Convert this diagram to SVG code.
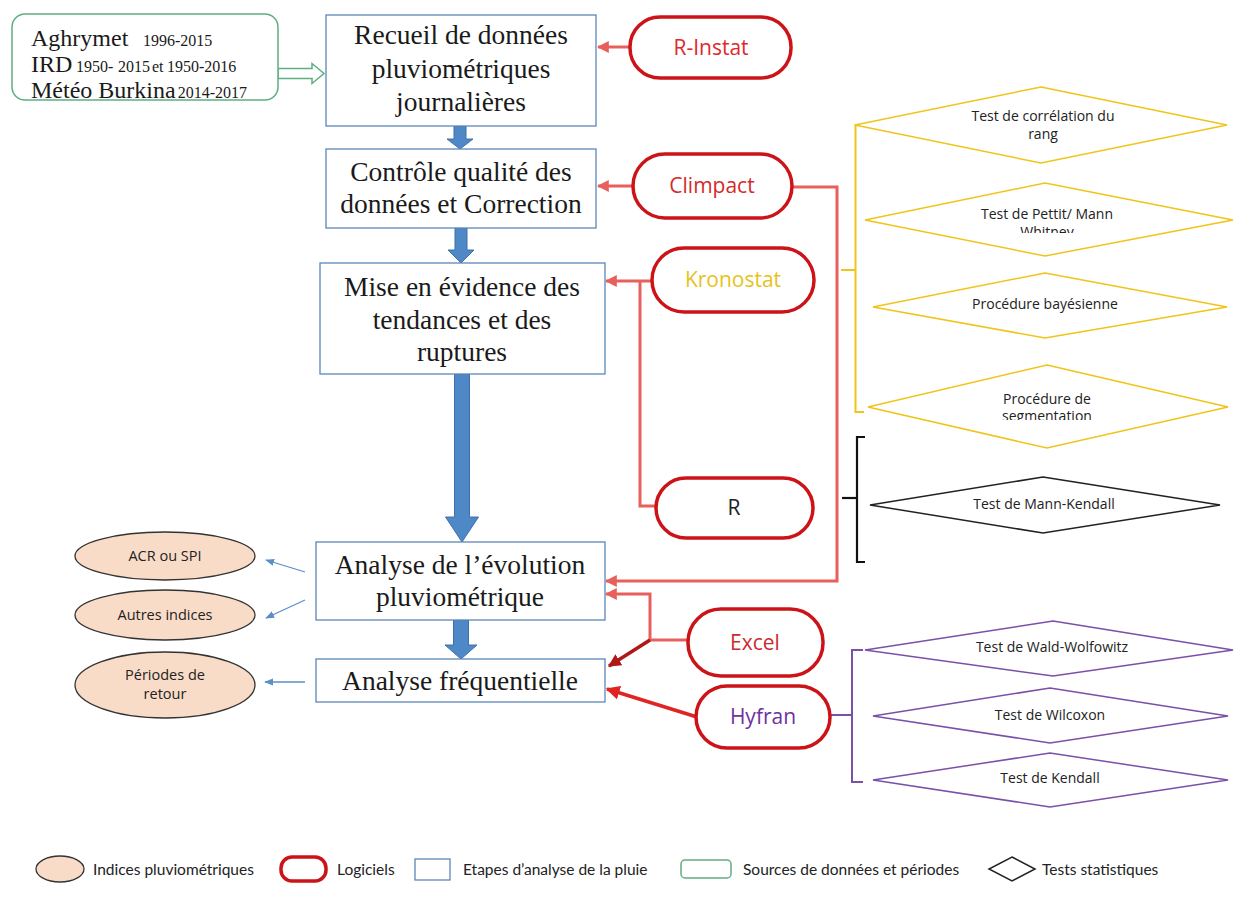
<svg xmlns="http://www.w3.org/2000/svg" width="1239" height="905" viewBox="0 0 1239 905">
<style>
.bg{fill:#ffffff}
.step{fill:#ffffff;stroke:#5b87b9;stroke-width:1.3}
.stept{font-family:"Liberation Serif",serif;font-size:27.5px;fill:#1a1a1a;text-anchor:middle}
.src{fill:#ffffff;stroke:#5fae80;stroke-width:1.5}
.srcb{font-family:"Liberation Serif",serif;font-size:24px;fill:#1a1a1a}
.srcs{font-family:"Liberation Serif",serif;font-size:16px;fill:#1a1a1a}
.pill{fill:#ffffff;stroke:#cc1418;stroke-width:3.5}
.pillt{font-family:"Open Sans",sans-serif;font-size:21px;text-anchor:middle}
.ell{fill:#f9dcc8;stroke:#333333;stroke-width:1.3}
.ellt{font-family:"Open Sans",sans-serif;font-size:14.5px;fill:#222;text-anchor:middle}
.dy{fill:#ffffff;stroke:#f0c419;stroke-width:1.5}
.dk{fill:#ffffff;stroke:#222222;stroke-width:1.5}
.dp{fill:#ffffff;stroke:#7a50a8;stroke-width:1.5}
.dt{font-family:"Open Sans",sans-serif;font-size:14px;fill:#222;text-anchor:middle}
.red{fill:none;stroke:#e8605c;stroke-width:3}
.blk{fill:#4f88c6;stroke:#3f70aa;stroke-width:1}
.thin{fill:none;stroke:#5b8fc7;stroke-width:1.3}
.lg{font-family:Lato,"Open Sans",sans-serif;font-size:15.5px;fill:#222}
</style>
<defs>
<marker id="ar" viewBox="0 0 10 10" refX="9" refY="5" markerWidth="12" markerHeight="12" markerUnits="userSpaceOnUse" orient="auto"><path d="M0,0 L10,5 L0,10 z" fill="#e8605c"/></marker>
<marker id="ard" viewBox="0 0 10 10" refX="9" refY="5" markerWidth="13" markerHeight="13" markerUnits="userSpaceOnUse" orient="auto"><path d="M0,0 L10,5 L0,10 z" fill="#b01818"/></marker>
<marker id="arr" viewBox="0 0 10 10" refX="9" refY="5" markerWidth="14" markerHeight="14" markerUnits="userSpaceOnUse" orient="auto"><path d="M0,0 L10,5 L0,10 z" fill="#e02424"/></marker>
<marker id="ab" viewBox="0 0 10 10" refX="9" refY="5" markerWidth="9" markerHeight="9" markerUnits="userSpaceOnUse" orient="auto"><path d="M0,1 L10,5 L0,9 z" fill="#5b8fc7"/></marker>
<clipPath id="cpw"><rect x="900" y="190" width="300" height="43"/></clipPath>
<clipPath id="cps"><rect x="900" y="380" width="300" height="40"/></clipPath>
</defs>
<rect class="bg" x="0" y="0" width="1239" height="905"/>

<g id="connectors">
  <polygon points="278,68.5 312,68.5 312,63.5 324,73.5 312,83.5 312,78.5 278,78.5" fill="#ffffff" stroke="#5fae80" stroke-width="1.5"/>
  <polygon class="blk" points="454,126 466,126 466,139 473,139 460,149 447,139 454,139"/>
  <polygon class="blk" points="455,228 467,228 467,250 474,250 461,263 448,250 455,250"/>
  <polygon class="blk" points="454.5,374 469.5,374 469.5,517 478.5,517 462,542 445.5,517 454.5,517"/>
  <polygon class="blk" points="453.5,620 468.5,620 468.5,645 477,645 461,659 445,645 453.5,645"/>
  <line class="red" x1="630" y1="47" x2="598" y2="47" marker-end="url(#ar)"/>
  <line class="red" x1="633" y1="186" x2="598" y2="186" marker-end="url(#ar)"/>
  <line class="red" x1="652" y1="281" x2="606" y2="281" marker-end="url(#ar)"/>
  <polyline class="red" points="656,506 640,506 640,281"/>
  <polyline class="red" points="792,187 837,187 837,581 606,581" marker-end="url(#ar)"/>
  <polyline class="red" points="688,640 650,640 650,594 606,594" marker-end="url(#ar)"/>
  <line x1="650" y1="640" x2="609" y2="666" stroke="#b01818" stroke-width="3.5" marker-end="url(#ard)"/>
  <line x1="697" y1="717" x2="607" y2="689" stroke="#e02424" stroke-width="3.5" marker-end="url(#arr)"/>
  <line class="thin" x1="305" y1="572" x2="266" y2="560" marker-end="url(#ab)"/>
  <line class="thin" x1="305" y1="600" x2="266" y2="618" marker-end="url(#ab)"/>
  <line class="thin" x1="305" y1="682" x2="265" y2="682" marker-end="url(#ab)"/>
  <polyline points="864,125 855.5,125 855.5,412 864,412" fill="none" stroke="#f0c419" stroke-width="2"/>
  <line x1="841" y1="270" x2="855.5" y2="270" stroke="#f0c419" stroke-width="2"/>
  <polyline points="865,437 857,437 857,562 865,562" fill="none" stroke="#111" stroke-width="2.2"/>
  <line x1="842" y1="498" x2="857" y2="498" stroke="#111" stroke-width="2.2"/>
  <polyline points="863,650 852,650 852,782 863,782" fill="none" stroke="#7a50a8" stroke-width="2"/>
  <line x1="830" y1="715" x2="852" y2="715" stroke="#7a50a8" stroke-width="2"/>
</g>

<g id="sources">
  <rect class="src" x="12" y="14" width="266" height="86" rx="13"/>
  <text x="31" y="46"><tspan class="srcb">Aghrymet</tspan><tspan class="srcs" x="143">1996-2015</tspan></text>
  <text x="31" y="72"><tspan class="srcb">IRD</tspan><tspan class="srcs" x="76">1950-</tspan><tspan class="srcs" x="118">2015</tspan><tspan class="srcs" x="152" font-size="14">et</tspan><tspan class="srcs" x="167">1950-2016</tspan></text>
  <text x="31" y="98"><tspan class="srcb">Météo Burkina</tspan><tspan class="srcs" dx="2">2014-2017</tspan></text>
</g>

<g id="step1">
  <rect class="step" x="326" y="15" width="270" height="111"/>
  <text class="stept" x="461" y="44">Recueil de données</text>
  <text class="stept" x="461" y="78">pluviométriques</text>
  <text class="stept" x="461" y="111">journalières</text>
</g>
<g id="step2">
  <rect class="step" x="326" y="149" width="270" height="79"/>
  <text class="stept" x="461" y="181">Contrôle qualité des</text>
  <text class="stept" x="461" y="213">données et Correction</text>
</g>
<g id="step3">
  <rect class="step" x="320" y="263" width="285" height="111"/>
  <text class="stept" x="462" y="296">Mise en évidence des</text>
  <text class="stept" x="462" y="329">tendances et des</text>
  <text class="stept" x="462" y="361">ruptures</text>
</g>
<g id="step4">
  <rect class="step" x="316" y="542" width="289" height="78"/>
  <text class="stept" x="460" y="574">Analyse de l’évolution</text>
  <text class="stept" x="460" y="606">pluviométrique</text>
</g>
<g id="step5">
  <rect class="step" x="316" y="659" width="289" height="43"/>
  <text class="stept" x="460" y="690">Analyse fréquentielle</text>
</g>

<g id="rinstat">
  <rect class="pill" x="630" y="17" width="161" height="61" rx="30"/>
  <text class="pillt" x="711" y="55" fill="#e0282e">R-Instat</text>
</g>
<g id="climpact">
  <rect class="pill" x="633" y="154" width="159" height="64" rx="32"/>
  <text class="pillt" x="712" y="193" fill="#d42a2a">Climpact</text>
</g>
<g id="kronostat">
  <rect class="pill" x="652" y="248" width="162" height="64" rx="32"/>
  <text class="pillt" x="733" y="287" fill="#e6c31a">Kronostat</text>
</g>
<g id="r">
  <rect class="pill" x="656" y="478" width="157" height="60" rx="30"/>
  <text class="pillt" x="734" y="515" fill="#222">R</text>
</g>
<g id="excel">
  <rect class="pill" x="688" y="609" width="135" height="67" rx="33"/>
  <text class="pillt" x="755" y="650" fill="#cc2a2e">Excel</text>
</g>
<g id="hyfran">
  <rect class="pill" x="696" y="686" width="134" height="62" rx="31"/>
  <text class="pillt" x="763" y="724" fill="#7030a0">Hyfran</text>
</g>

<g id="acr">
  <ellipse class="ell" cx="165" cy="556" rx="90" ry="24"/>
  <text class="ellt" x="165" y="561">ACR ou SPI</text>
</g>
<g id="autres">
  <ellipse class="ell" cx="165" cy="615" rx="90" ry="25"/>
  <text class="ellt" x="165" y="620">Autres indices</text>
</g>
<g id="periodes">
  <ellipse class="ell" cx="165" cy="685" rx="90" ry="33"/>
  <text class="ellt" x="165" y="680">Périodes de</text>
  <text class="ellt" x="165" y="699">retour</text>
</g>

<g id="t-correlation">
  <polygon class="dy" points="1041,87 1227,125 1041,163 855,125"/>
  <text class="dt" x="1043" y="121">Test de corrélation du</text>
  <text class="dt" x="1043" y="139">rang</text>
</g>
<g id="t-pettit">
  <polygon class="dy" points="1045,183 1233,220 1045,256 865,220"/>
  <text class="dt" x="1047" y="219">Test de Pettit/ Mann</text>
  <g clip-path="url(#cpw)"><text class="dt" x="1047" y="237">Whitney</text></g>
</g>
<g id="t-bayes">
  <polygon class="dy" points="1045,273 1227,307 1045,338 873,307"/>
  <text class="dt" x="1045" y="309">Procédure bayésienne</text>
</g>
<g id="t-segm">
  <polygon class="dy" points="1047,365 1228,407 1047,448 868,407"/>
  <text class="dt" x="1047" y="404">Procédure de</text>
  <g clip-path="url(#cps)"><text class="dt" x="1047" y="421">segmentation</text></g>
</g>
<g id="t-mk">
  <polygon class="dk" points="1043,477 1220,505 1043,533 870,505"/>
  <text class="dt" x="1044" y="509">Test de Mann-Kendall</text>
</g>
<g id="t-wald">
  <polygon class="dp" points="1053,621 1233,650 1053,676 865,650"/>
  <text class="dt" x="1052" y="652">Test de Wald-Wolfowitz</text>
</g>
<g id="t-wilcoxon">
  <polygon class="dp" points="1050,688 1228,716 1050,743 873,716"/>
  <text class="dt" x="1050" y="720">Test de Wilcoxon</text>
</g>
<g id="t-kendall">
  <polygon class="dp" points="1050,753 1228,780 1050,807 873,780"/>
  <text class="dt" x="1050" y="783">Test de Kendall</text>
</g>

<g id="legend">
  <ellipse class="ell" cx="60" cy="869" rx="24" ry="13"/>
  <text class="lg" x="93" y="875">Indices pluviométriques</text>
  <rect class="pill" x="281" y="857" width="45" height="24" rx="11"/>
  <text class="lg" x="337" y="875">Logiciels</text>
  <rect class="step" x="415" y="859" width="35" height="21"/>
  <text class="lg" x="463" y="875">Etapes d’analyse de la pluie</text>
  <rect class="src" x="681" y="860" width="50" height="18" rx="4"/>
  <text class="lg" x="743" y="875">Sources de données et périodes</text>
  <polygon points="1012,857 1035,869 1012,881 989,869" fill="#fff" stroke="#222" stroke-width="1.5"/>
  <text class="lg" x="1042" y="875">Tests statistiques</text>
</g>
</svg>
